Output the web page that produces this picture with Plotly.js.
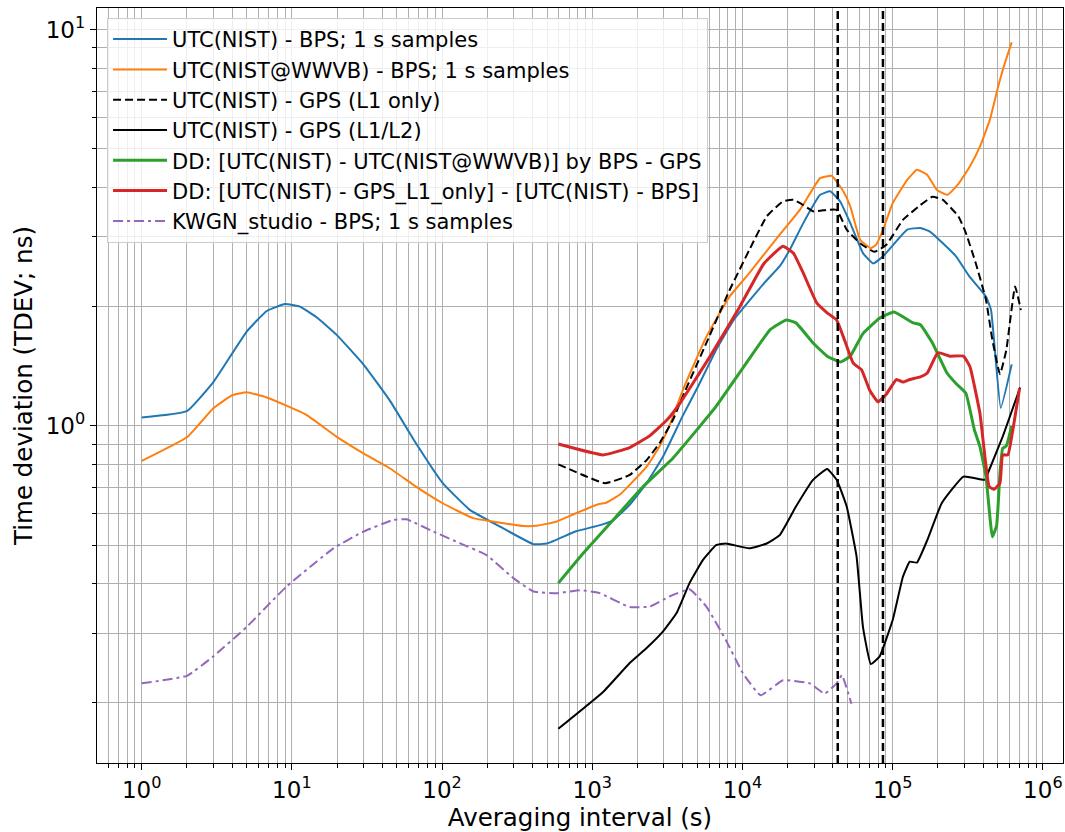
<!DOCTYPE html>
<html>
<head>
<meta charset="utf-8">
<script src="https://cdn.plot.ly/plotly-3.0.1.min.js"></script>
<style>html,body{margin:0;padding:0;background:#fff;}#chart{width:1065px;height:832px;}</style>
</head>
<body>
<div id="chart"></div>
<script>
// ---- Data ----
const seriesNames = [
  "UTC(NIST) - BPS; 1 s samples",
  "UTC(NIST@WWVB) - BPS; 1 s samples",
  "UTC(NIST) - GPS (L1 only)",
  "UTC(NIST) - GPS (L1/L2)",
  "DD: [UTC(NIST) - UTC(NIST@WWVB)] by BPS - GPS",
  "DD: [UTC(NIST) - GPS_L1_only] - [UTC(NIST) - BPS]",
  "KWGN_studio - BPS; 1 s samples"
];

const bpsX = [1, 2, 3, 5, 6.8, 9, 11.3, 14.6, 19.8, 29.9, 44.8, 67, 101, 153, 243, 406, 500, 779, 1110, 1370, 1775, 2300, 2960, 4000, 5180, 6670, 8730, 13900, 17700, 20600, 25400, 32900, 38400, 44800, 52200, 63400, 74200, 86400, 125000, 153000, 178000, 264000, 325000, 418000, 452000, 524000, 620000];
const bpsY = [1.05, 1.09, 1.29, 1.73, 1.95, 2.03, 2.0, 1.88, 1.70, 1.43, 1.16, 0.904, 0.717, 0.614, 0.557, 0.503, 0.505, 0.542, 0.561, 0.577, 0.632, 0.717, 0.837, 1.06, 1.28, 1.555, 1.85, 2.29, 2.53, 2.78, 3.25, 3.83, 3.91, 3.68, 3.25, 2.73, 2.57, 2.68, 3.13, 3.16, 3.09, 2.68, 2.38, 2.12, 1.96, 1.11, 1.43];

const wwvbX = [1, 2, 3, 4, 5, 6.8, 9.2, 12.5, 19.8, 29.9, 44.8, 67, 101, 161, 243, 347, 426, 575, 779, 1110, 1240, 1520, 1775, 2300, 2800, 3260, 4000, 5750, 8200, 11100, 16600, 24100, 32900, 39300, 46900, 52200, 60700, 71500, 77200, 86400, 100000, 125000, 145000, 170000, 197000, 232000, 274000, 327000, 381000, 444000, 504000, 545000, 620000];
const wwvbY = [0.816, 0.936, 1.108, 1.195, 1.216, 1.18, 1.125, 1.066, 0.94, 0.853, 0.782, 0.703, 0.638, 0.585, 0.570, 0.559, 0.560, 0.573, 0.602, 0.635, 0.64, 0.67, 0.71, 0.789, 0.887, 1.0, 1.23, 1.68, 2.12, 2.43, 2.95, 3.51, 4.22, 4.28, 3.91, 3.58, 2.95, 2.81, 2.86, 3.13, 3.65, 4.18, 4.43, 4.30, 3.94, 3.83, 4.08, 4.52, 5.07, 5.93, 7.19, 8.0, 9.29];

const l1X = [594, 1215, 1775, 2300, 2800, 3440, 4000, 5750, 8200, 11100, 14500, 18600, 21800, 25400, 29500, 36600, 42400, 49400, 60700, 75500, 90400, 117000, 153000, 184000, 216000, 274000, 307000, 358000, 418000, 461000, 518000, 571000, 653000, 714000];
const l1Y = [0.80, 0.717, 0.752, 0.82, 0.904, 1.035, 1.186, 1.62, 2.20, 2.78, 3.38, 3.69, 3.72, 3.61, 3.48, 3.51, 3.51, 3.13, 2.89, 2.75, 2.86, 3.31, 3.61, 3.79, 3.72, 3.38, 3.07, 2.57, 2.08, 1.65, 1.35, 1.555, 2.25, 1.96];

const l1l2X = [594, 1180, 1775, 2300, 2960, 3640, 4440, 5460, 6670, 7750, 11100, 14500, 17700, 22700, 29500, 36600, 42400, 49400, 57500, 63400, 71500, 81700, 100000, 117000, 130000, 145000, 170000, 212000, 296000, 411000, 439000, 540000, 705000];
const l1l2Y = [0.172, 0.213, 0.252, 0.275, 0.303, 0.337, 0.401, 0.459, 0.50, 0.505, 0.491, 0.505, 0.53, 0.626, 0.731, 0.779, 0.731, 0.626, 0.468, 0.311, 0.2506, 0.2616, 0.3236, 0.4163, 0.4543, 0.452, 0.515, 0.638, 0.745, 0.731, 0.774, 0.94, 1.25];

const ddWwvbX = [594, 870, 1440, 2180, 3440, 5180, 6670, 10600, 15300, 19600, 22700, 29500, 36600, 44800, 52200, 63400, 81700, 102000, 137000, 153000, 184000, 230000, 264000, 307000, 350000, 381000, 418000, 461000, 492000, 518000, 540000, 571000, 620000];
const ddWwvbY = [0.401, 0.477, 0.59, 0.703, 0.829, 0.996, 1.12, 1.44, 1.75, 1.85, 1.82, 1.62, 1.50, 1.45, 1.50, 1.71, 1.87, 1.94, 1.82, 1.80, 1.62, 1.36, 1.28, 1.21, 0.977, 0.887, 0.745, 0.525, 0.56, 0.76, 0.878, 0.89, 1.0];

const ddL1X = [594, 1180, 1775, 2420, 3140, 3800, 6100, 9600, 13900, 18600, 21800, 25400, 31300, 36600, 42400, 46900, 54600, 62100, 70300, 79800, 90400, 106000, 117000, 130000, 153000, 170000, 200000, 240000, 296000, 327000, 381000, 439000, 474000, 518000, 540000, 585000, 631000, 700000];
const ddL1Y = [0.90, 0.845, 0.882, 0.945, 1.035, 1.135, 1.50, 2.0, 2.57, 2.84, 2.73, 2.43, 2.04, 1.93, 1.85, 1.68, 1.44, 1.385, 1.23, 1.15, 1.20, 1.31, 1.29, 1.31, 1.33, 1.36, 1.53, 1.50, 1.50, 1.41, 1.076, 0.703, 0.692, 0.717, 0.845, 0.845, 0.977, 1.245];

const kwgnX = [1, 2, 3, 5, 9.2, 18.9, 29.9, 47.2, 58, 87.7, 131, 198, 298, 406, 575, 825, 1110, 1775, 2420, 3260, 4440, 5750, 7750, 10100, 13200, 18600, 28100, 35200, 42400, 45900, 53100];
const kwgnY = [0.224, 0.234, 0.262, 0.311, 0.393, 0.491, 0.541, 0.579, 0.581, 0.541, 0.506, 0.472, 0.413, 0.382, 0.378, 0.385, 0.379, 0.349, 0.35, 0.371, 0.387, 0.35, 0.288, 0.237, 0.209, 0.228, 0.224, 0.211, 0.224, 0.235, 0.199];

// vertical reference lines (half and one sidereal day, s)
const vLines = [43082, 86164];

const xTickVals = [1, 10, 100, 1000, 10000, 100000, 1000000];
const xTickText = ["10<sup>0</sup>", "10<sup>1</sup>", "10<sup>2</sup>", "10<sup>3</sup>", "10<sup>4</sup>", "10<sup>5</sup>", "10<sup>6</sup>"];
const yTickVals = [1, 10];
const yTickText = ["10<sup>0</sup>", "10<sup>1</sup>"];

// ---- Build ----
function minorVals(lo, hi) {
  const out = [];
  for (let e = lo; e <= hi; e++) for (let m = 2; m <= 9; m++) out.push(m * Math.pow(10, e));
  return out;
}

const colors = ["#1f77b4", "#ff7f0e", "#000000", "#000000", "#2ca02c", "#d62728", "#9467bd"];
const widths = [2, 2, 2, 2, 3, 3, 2];
const dashes = ["solid", "solid", "8px,4px", "solid", "solid", "solid", "10px,4px,3px,4px"];
const xs = [bpsX, wwvbX, l1X, l1l2X, ddWwvbX, ddL1X, kwgnX];
const ys = [bpsY, wwvbY, l1Y, l1l2Y, ddWwvbY, ddL1Y, kwgnY];

const traces = seriesNames.map((n, i) => ({
  x: xs[i], y: ys[i], name: n, type: "scatter", mode: "lines",
  line: {color: colors[i], width: widths[i], dash: dashes[i], shape: "spline", smoothing: 0.35}
}));

const shapes = vLines.map(v => ({
  type: "line", xref: "x", yref: "paper",
  x0: v, x1: v, y0: 0, y1: 1,
  line: {color: "#000", width: 2.5, dash: "8px,4px"}
}));

const tickFont = {family: "DejaVu Sans, sans-serif", size: 23, color: "#000"};
const titleFont = {family: "DejaVu Sans, sans-serif", size: 24.5, color: "#000"};
const gridC = "#b0b0b0";

const layout = {
  width: 1065, height: 832,
  margin: {l: 97, r: 2, t: 8, b: 69, pad: 0},
  paper_bgcolor: "#fff", plot_bgcolor: "#fff",
  font: tickFont,
  showlegend: true,
  shapes: shapes,
  xaxis: {
    type: "log", range: [-0.2976, 6.134], autorange: false,
    tickmode: "array", tickvals: xTickVals, ticktext: xTickText,
    ticks: "outside", ticklen: 6, tickwidth: 1, tickcolor: "#000",
    showline: true, linecolor: "#000", linewidth: 1.2, mirror: true,
    showgrid: true, gridcolor: gridC, gridwidth: 1, zeroline: false,
    minor: {tickmode: "array", tickvals: minorVals(-1, 5), ticks: "outside", ticklen: 3.5, tickcolor: "#000", showgrid: true, gridcolor: gridC, gridwidth: 1},
    tickfont: tickFont,
    title: {text: "Averaging interval (s)", font: titleFont, standoff: 6},
    automargin: false
  },
  yaxis: {
    type: "log", range: [Math.log10(0.141), 1.0548], autorange: false,
    tickmode: "array", tickvals: yTickVals, ticktext: yTickText,
    ticks: "outside", ticklen: 6, tickwidth: 1, tickcolor: "#000",
    showline: true, linecolor: "#000", linewidth: 1.2, mirror: true,
    showgrid: true, gridcolor: gridC, gridwidth: 1, zeroline: false,
    minor: {tickmode: "array", tickvals: minorVals(-1, 0), ticks: "outside", ticklen: 3.5, tickcolor: "#000", showgrid: true, gridcolor: gridC, gridwidth: 1},
    tickfont: tickFont,
    title: {text: "Time deviation (TDEV; ns)", font: titleFont, standoff: 6},
    automargin: false
  },
  legend: {
    x: 0.0104, y: 0.9868, xanchor: "left", yanchor: "top",
    bgcolor: "rgba(255,255,255,0.8)", bordercolor: "#cccccc", borderwidth: 1,
    font: {family: "DejaVu Sans, sans-serif", size: 21, color: "#000"},
    itemwidth: 54,
    tracegroupgap: 0
  }
};

Plotly.newPlot("chart", traces, layout, {displayModeBar: false, staticPlot: true});
</script>
</body>
</html>
